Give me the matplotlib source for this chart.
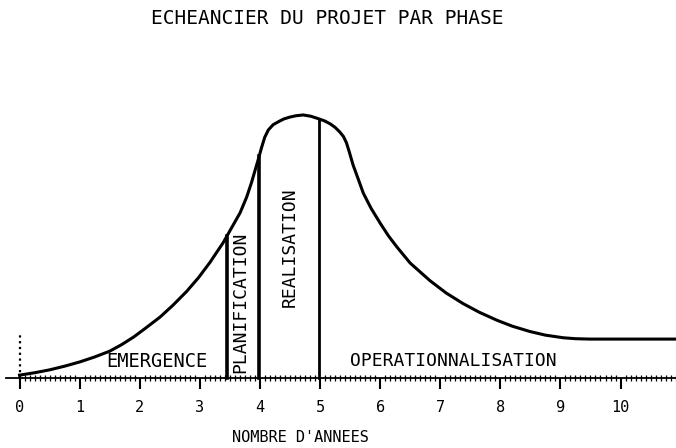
import numpy as np
import matplotlib
matplotlib.use("Agg")
import matplotlib.pyplot as plt

# effort relatif (% du pic) selon le nombre d'annees
annees = [0.0, 0.25, 0.5, 0.75, 1.0, 1.25, 1.5, 1.7, 1.9, 2.1, 2.34, 2.55,
          2.78, 2.98, 3.17, 3.39, 3.67, 3.78, 3.86, 3.97, 4.03, 4.08,
          4.14, 4.22, 4.33, 4.4, 4.5, 4.6, 4.72, 4.85, 4.97, 5.08, 5.17,
          5.25, 5.33, 5.39, 5.44, 5.48, 5.55, 5.63, 5.72, 5.85, 6.0, 6.14,
          6.28, 6.5, 6.83, 7.1, 7.38, 7.65, 7.94, 8.2, 8.49, 8.75, 9.05,
          9.25, 9.49, 10.92]
effort = [1.1, 2.0, 3.1, 4.5, 6.1, 8.0, 10.2, 12.7, 15.6, 19.0, 23.2, 27.6,
          32.9, 38.2, 44.0, 51.5, 62.8, 68.8, 74.3, 82.9, 87.8, 91.5,
          94.3, 96.3, 97.7, 98.5, 99.2, 99.7, 100.0, 99.5, 98.6, 97.7, 96.6,
          95.3, 93.5, 91.8, 89.4, 86.5, 81.0, 76.0, 70.3, 64.5, 58.9, 54.0,
          49.8, 43.7, 37.0, 32.3, 28.3, 25.0, 22.0, 19.7, 17.7, 16.3, 15.3,
          14.95, 14.8, 14.8]

limites_phases = [3.45, 3.99, 4.98]
ticks_annees = list(range(0, 11))

FONT = "DejaVu Sans Mono"

fig = plt.figure(figsize=(6.76, 4.48), dpi=100)
ax = fig.add_axes([0, 0, 1, 1])
ax.set_xlim(-0.3245, 10.923)
ax.set_ylim(-26.6, 143.7)

# courbe
ax.plot(annees, effort, color="black", lw=2.2, solid_joinstyle="round")

# separations entre phases
tops = np.interp(limites_phases, annees, effort)
for xb, top, lw in zip(limites_phases, tops, [2.6, 2.6, 2.0]):
    ax.plot([xb, xb], [0, top], color="black", lw=lw)

# axe des y pointille
ax.plot([0, 0], [0, 16.3], color="black", lw=1.6, ls=(0, (1, 1.6)))

# axe des x
for s in ["left", "right", "top"]:
    ax.spines[s].set_visible(False)
ax.spines["bottom"].set_position(("data", 0))
ax.spines["bottom"].set_bounds(-0.22, 10.923)
ax.spines["bottom"].set_linewidth(1.3)
ax.set_yticks([])
ax.set_xticks(ticks_annees)
ax.set_xticklabels([str(t) for t in ticks_annees], fontsize=11, family=FONT)
ax.set_xticks(np.arange(0, 10.92, 1 / 12), minor=True)
ax.tick_params(axis="x", which="major", direction="out", length=8, width=1.5, pad=8)
ax.tick_params(axis="x", which="minor", direction="inout", length=4, width=0.9)

# libelles des phases
ax.text(2.29, 6.1, "EMERGENCE", fontsize=13.5, family=FONT, ha="center", va="center")
ax.text(3.68, 28.7, "PLANIFICATION", fontsize=13, family=FONT, ha="center",
        va="center", rotation=90)
ax.text(4.5, 49.8, "REALISATION", fontsize=13, family=FONT, ha="center",
        va="center", rotation=90)
ax.text(7.21, 6.5, "OPERATIONNALISATION", fontsize=13, family=FONT, ha="center",
        va="center")

fig.text(327 / 676, 1 - 19 / 448, "ECHEANCIER DU PROJET PAR PHASE", fontsize=14,
         family=FONT, ha="center", va="center")
fig.text(300 / 676, 1 - 437 / 448, "NOMBRE D'ANNEES", fontsize=11,
         family=FONT, ha="center", va="center")

fig.savefig("out.png", dpi=100)
